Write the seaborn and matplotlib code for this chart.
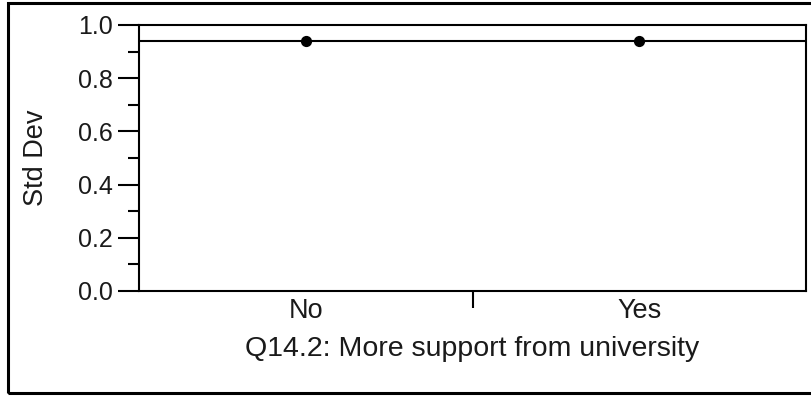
import matplotlib
matplotlib.use("Agg")
import matplotlib.pyplot as plt
import matplotlib.patches as mpatches
from matplotlib.ticker import MultipleLocator, FixedLocator
import seaborn as sns
import pandas as pd

# dados
categorias = ["No", "Yes"]
desvio_padrao = [0.940, 0.941]
desvio_geral = 0.940
titulo_x = "Q14.2: More support from university"
titulo_y = "Std Dev"

sns.set_style("white")
plt.rcParams["font.family"] = ["Liberation Sans", "DejaVu Sans"]
COR_TEXTO = "#1a1a1a"

df = pd.DataFrame({"grupo": categorias, "std": desvio_padrao})

fig = plt.figure(figsize=(8.11, 3.96), dpi=100)
ax = fig.add_axes([139 / 811, 1 - 291 / 396, (806 - 139) / 811, (291 - 25) / 396])

ax.axhline(desvio_geral, color="black", linewidth=1.5, zorder=1)
sns.scatterplot(data=df, x="grupo", y="std", ax=ax, color="black", s=65,
                edgecolor="black", linewidth=0, zorder=3)

ax.set_xlim(-0.5, 1.5)
ax.set_ylim(0, 1.0)
ax.yaxis.set_major_locator(MultipleLocator(0.2))
ax.yaxis.set_minor_locator(MultipleLocator(0.1))
ax.set_yticklabels([f"{v:.1f}" for v in ax.get_yticks()])
ax.xaxis.set_major_locator(FixedLocator([0, 1]))
ax.set_xticklabels(categorias)
ax.xaxis.set_minor_locator(FixedLocator([0.5]))

ax.tick_params(axis="y", which="major", direction="out", length=15, width=1.5,
               labelsize=18, pad=4, left=True, color="black", labelcolor=COR_TEXTO)
ax.tick_params(axis="y", which="minor", direction="out", length=8, width=1.5,
               left=True, color="black")
ax.tick_params(axis="x", which="major", length=0, labelsize=19.5, pad=5,
               labelcolor=COR_TEXTO)
ax.tick_params(axis="x", which="minor", direction="out", length=12, width=1.5,
               bottom=True, color="black")

for lado in ["left", "right", "top", "bottom"]:
    ax.spines[lado].set_visible(True)
    ax.spines[lado].set_color("black")
    ax.spines[lado].set_linewidth(1.5)

ax.set_xlabel(titulo_x, fontsize=20.5, color=COR_TEXTO)
ax.set_ylabel(titulo_y, fontsize=19.5, color=COR_TEXTO)
ax.xaxis.label.set_va("center")
ax.yaxis.label.set_va("center")
ax.xaxis.set_label_coords(0.5, (291 - 349) / 266)
ax.yaxis.set_label_coords((36 - 139) / 667, 0.5)

# moldura externa
moldura = mpatches.Rectangle((8 / 811, 3 / 396), 1.0, (393 - 3) / 396,
                             transform=fig.transFigure, fill=False,
                             edgecolor="black", linewidth=2.2, clip_on=False)
fig.patches.append(moldura)

fig.savefig("out.png", dpi=100)
